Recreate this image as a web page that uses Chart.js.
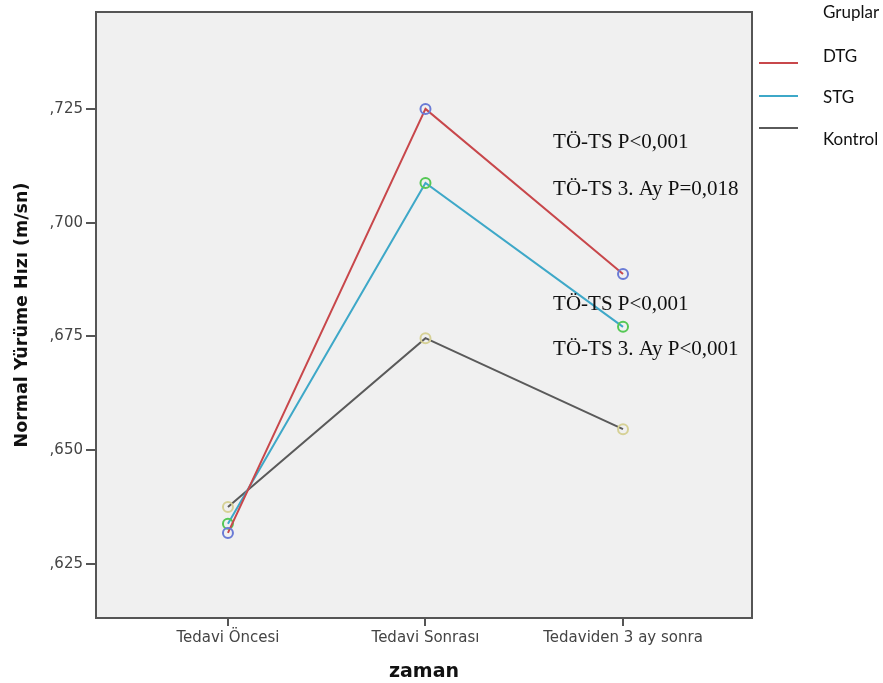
<!DOCTYPE html>
<html>
<head>
<meta charset="utf-8">
<script src="https://cdn.jsdelivr.net/npm/chart.js@4"></script>
<style>
  body { margin: 0; background: #fff; }
  #wrap { width: 883px; height: 683px; }
</style>
</head>
<body>
<div id="wrap"><canvas id="chartMain"></canvas></div>
<script>
// time points (x axis categories)
var categories = ["Tedavi Öncesi", "Tedavi Sonrası", "Tedaviden 3 ay sonra"];
var groupNames = ["DTG", "STG", "Kontrol"];
var dtgValues = [0.6318, 0.7250, 0.6887];
var stgValues = [0.6338, 0.7087, 0.6771];
var kontrolValues = [0.6375, 0.6746, 0.6546];
var yTicks = [0.625, 0.650, 0.675, 0.700, 0.725];

// p-value notes, placed in data units (x = category index, y = speed)
var noteTexts = ["TÖ-TS P<0,001", "TÖ-TS 3. Ay P=0,018", "TÖ-TS P<0,001", "TÖ-TS 3. Ay P<0,001"];
var noteX = [1.646, 1.646, 1.646, 1.646];
var noteY = [0.7176, 0.7073, 0.6820, 0.6721];

var lineColors = ["#c8474b", "#3ea8c8", "#5a5a5a"];
var markerColors = ["#6a7bd6", "#55c855", "#d6d196"];

var chartMain = null;

function toPoints(values) {
  return values.map(function(v, i) { return {x: i, y: v}; });
}

function makeDataset(i, values) {
  return {
    label: groupNames[i],
    data: toPoints(values),
    borderColor: lineColors[i],
    borderWidth: 2,
    pointRadius: 5,
    pointHoverRadius: 5,
    pointBorderWidth: 2,
    pointBorderColor: markerColors[i],
    pointBackgroundColor: "rgba(0,0,0,0)",
    fill: false,
    tension: 0
  };
}

// grey plot background + box frame like SPSS
var framePlugin = {
  id: "frame",
  beforeDraw: function(chart) {
    var a = chart.chartArea;
    var ctx = chart.ctx;
    ctx.save();
    ctx.fillStyle = "#f0f0f0";
    ctx.fillRect(a.left, a.top, a.right - a.left, a.bottom - a.top);
    ctx.restore();
  },
  afterDraw: function(chart) {
    var a = chart.chartArea;
    var ctx = chart.ctx;
    ctx.save();
    ctx.strokeStyle = "#555";
    ctx.lineWidth = 2;
    ctx.strokeRect(a.left, a.top, a.right - a.left, a.bottom - a.top);
    ctx.restore();
  }
};

// text notes inside plot
var notesPlugin = {
  id: "notes",
  afterDatasetsDraw: function(chart) {
    var ctx = chart.ctx;
    var xs = chart.scales.x, ys = chart.scales.y;
    ctx.save();
    ctx.font = "21px 'Liberation Serif', 'Times New Roman', serif";
    ctx.fillStyle = "#111";
    ctx.textAlign = "left";
    ctx.textBaseline = "middle";
    for (var i = 0; i < noteTexts.length; i++) {
      ctx.fillText(noteTexts[i], xs.getPixelForValue(noteX[i]), ys.getPixelForValue(noteY[i]));
    }
    ctx.restore();
  }
};

// legend on the right, outside the frame
var legendPlugin = {
  id: "sideLegend",
  afterDraw: function(chart) {
    var ctx = chart.ctx;
    var a = chart.chartArea;
    var lineX0 = a.right + 7, lineX1 = a.right + 46, textX = a.right + 71;
    var lineY = [63, 96, 128];
    var textY = [57, 98, 140];
    ctx.save();
    ctx.font = "17px Lato, 'Open Sans', sans-serif";
    ctx.fillStyle = "#111";
    ctx.textAlign = "left";
    ctx.textBaseline = "middle";
    ctx.fillText("Gruplar", textX, 13);
    chart.data.datasets.forEach(function(ds, i) {
      ctx.strokeStyle = ds.borderColor;
      ctx.lineWidth = 2;
      ctx.beginPath();
      ctx.moveTo(lineX0, lineY[i]);
      ctx.lineTo(lineX1, lineY[i]);
      ctx.stroke();
      ctx.fillText(ds.label, textX, textY[i]);
    });
    ctx.restore();
  }
};

function main() {
  chartMain = new Chart("chartMain", {
    type: "line",
    data: {
      datasets: [
        makeDataset(0, dtgValues),
        makeDataset(1, stgValues),
        makeDataset(2, kontrolValues)
      ]
    },
    options: {
      responsive: true,
      maintainAspectRatio: false,
      animation: false,
      layout: { padding: { top: 11, right: 131, left: 0, bottom: 0 } },
      plugins: {
        legend: { display: false },
        tooltip: { enabled: false }
      },
      scales: {
        x: {
          type: "linear",
          min: -0.668,
          max: 2.653,
          afterBuildTicks: function(scale) {
            scale.ticks = categories.map(function(c, i) { return {value: i}; });
          },
          afterFit: function(scale) { scale.height = 65; },
          border: { display: false },
          grid: { drawOnChartArea: false, drawTicks: true, tickLength: 8, color: "#555", lineWidth: 2 },
          ticks: {
            padding: 3,
            color: "#444",
            font: { family: "'DejaVu Sans', sans-serif", size: 15 },
            maxRotation: 0,
            callback: function(v) { return categories[v]; }
          },
          title: {
            display: true,
            text: "zaman",
            color: "#111",
            padding: { top: 2, bottom: 0 },
            font: { family: "'DejaVu Sans', sans-serif", size: 19, weight: "bold" }
          }
        },
        y: {
          min: 0.6131,
          max: 0.7463,
          afterBuildTicks: function(scale) {
            scale.ticks = yTicks.map(function(v) { return {value: v}; });
          },
          afterFit: function(scale) { scale.width = 96; },
          border: { display: false },
          grid: { drawOnChartArea: false, drawTicks: true, tickLength: 10, color: "#555", lineWidth: 2 },
          ticks: {
            padding: 3,
            color: "#444",
            font: { family: "'DejaVu Sans', sans-serif", size: 15 },
            callback: function(v) { return "," + v.toFixed(3).slice(2); }
          },
          title: {
            display: true,
            text: "Normal Yürüme Hızı (m/sn)",
            color: "#111",
            padding: { top: 12, bottom: 0 },
            font: { family: "'DejaVu Sans', sans-serif", size: 17.5, weight: "bold" }
          }
        }
      }
    },
    plugins: [framePlugin, notesPlugin, legendPlugin]
  });
}

main();
</script>
</body>
</html>
